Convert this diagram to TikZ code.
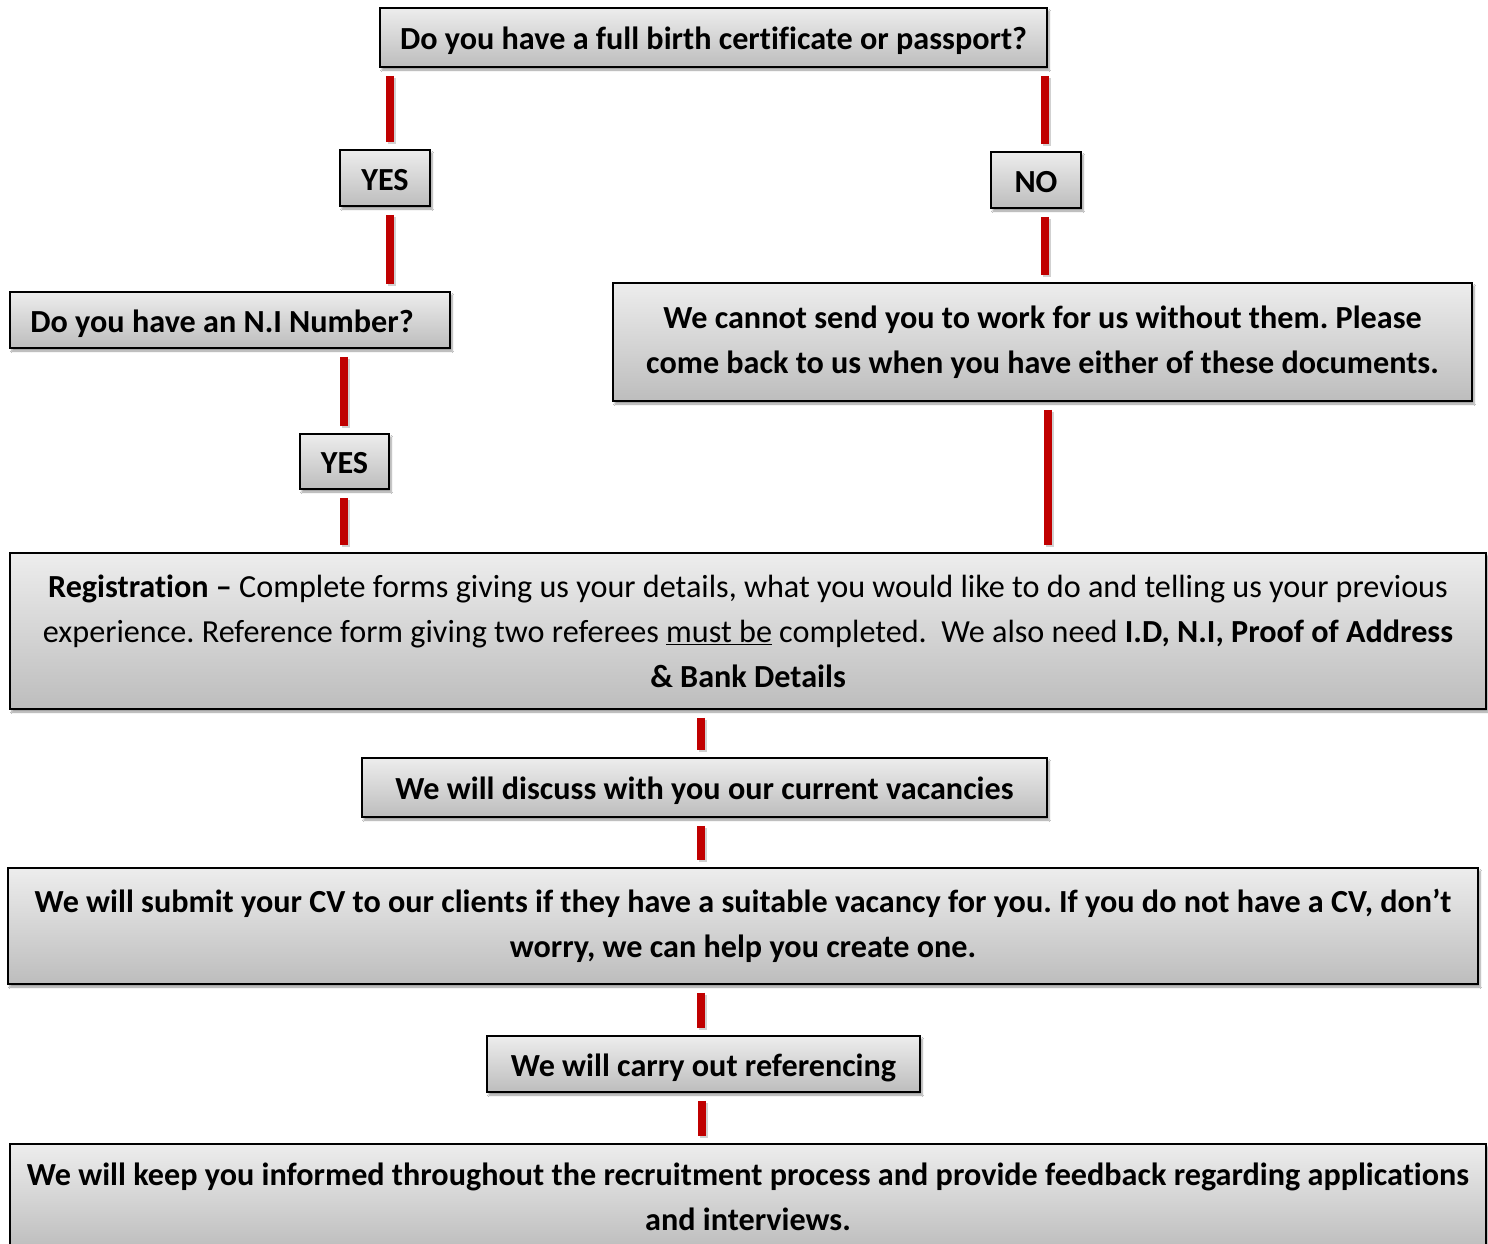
\documentclass[tikz,border=0pt]{standalone}
\usepackage{fontspec}
\setmainfont{Carlito}[Ligatures=CommonOff]
\usetikzlibrary{shadows,shadows.blur}
\definecolor{boxtop}{HTML}{EDEDED}
\definecolor{boxbot}{HTML}{BDBDBD}
\definecolor{conred}{HTML}{C00000}
\tikzset{
  fbox/.style={draw=black, line width=1.6bp, top color=boxtop, bottom color=boxbot,
    blur shadow={shadow xshift=2bp, shadow yshift=-3bp, shadow blur steps=6, shadow opacity=40},
    inner sep=0pt, align=center, font=\fontsize{32.3}{45}\selectfont\frenchspacing},
  onebox/.style={fbox, text height=31bp, text depth=7bp},
  conn/.style={draw=conred, line width=8bp, shorten <=8bp, shorten >=7bp,
    preaction={draw=black, opacity=0.18, line width=8bp, shorten <=8bp, shorten >=7bp,
      transform canvas={shift={(2bp,-2bp)}}}}
}
\begin{document}
\begin{tikzpicture}[x=1bp,y=-1bp]
\clip (0,0) rectangle (1488,1243);
\useasboundingbox (0,0) rectangle (1488,1243);
\fill[white] (0,0) rectangle (1488,1243);

\node[onebox, minimum width=667bp, minimum height=59bp] (top) at (713.5,37.5) {\bfseries Do you have a full birth certificate or passport?};
\node[onebox, minimum width=90bp, minimum height=56bp] (yes1) at (385,178) {\bfseries YES};
\node[onebox, minimum width=90bp, minimum height=56bp] (no) at (1036,180) {\bfseries NO};
\node[onebox, minimum width=440bp, minimum height=56bp] (ni) at (230,320) {\bfseries Do you have an N.I Number?\hspace*{16bp}};
\node[onebox, minimum width=89bp, minimum height=55bp] (yes2) at (344.5,461.5) {\bfseries YES};
\node[fbox, minimum width=859bp, minimum height=118bp] (cannot) at (1042.5,342) {\bfseries We cannot send you to work for us without them. Please\\\bfseries come back to us when you have either of these documents.};
\node[fbox, minimum width=1476bp, minimum height=156bp] (reg) at (748,631) {\textbf{Registration --} Complete forms giving us your details, what you would like to do and telling us your previous\\experience. Reference form giving two referees \underline{must be} completed.\ \ We also need \textbf{I.D, N.I, Proof of Address}\\\textbf{\& Bank Details}};
\node[onebox, minimum width=685bp, minimum height=59bp] (disc) at (704.5,787.5) {\bfseries We will discuss with you our current vacancies};
\node[fbox, minimum width=1470bp, minimum height=116bp] (sub) at (743,926) {\bfseries We will submit your CV to our clients if they have a suitable vacancy for you. If you do not have a CV, don’t\\\bfseries worry, we can help you create one.};
\node[onebox, minimum width=433bp, minimum height=56bp] (ref) at (703.5,1064) {\bfseries We will carry out referencing};
\node[fbox, minimum width=1476bp, minimum height=106bp] (keep) at (748,1197) {\bfseries We will keep you informed throughout the recruitment process and provide feedback regarding applications\\\bfseries and interviews.};

\coordinate (xa) at (390,0);
\coordinate (xb) at (1045,0);
\coordinate (xc) at (344,0);
\coordinate (xd) at (1048,0);
\coordinate (xe) at (701,0);
\coordinate (xf) at (702,0);

\draw[conn] (top.south -| xa) -- (yes1.north -| xa);
\draw[conn] (yes1.south -| xa) -- (ni.north -| xa);
\draw[conn] (top.south -| xb) -- (no.north -| xb);
\draw[conn] (no.south -| xb) -- (cannot.north -| xb);
\draw[conn] (ni.south -| xc) -- (yes2.north -| xc);
\draw[conn] (yes2.south -| xc) -- (reg.north -| xc);
\draw[conn] (cannot.south -| xd) -- (reg.north -| xd);
\draw[conn] (reg.south -| xe) -- (disc.north -| xe);
\draw[conn] (disc.south -| xe) -- (sub.north -| xe);
\draw[conn] (sub.south -| xe) -- (ref.north -| xe);
\draw[conn] (ref.south -| xf) -- (keep.north -| xf);
\end{tikzpicture}
\end{document}
